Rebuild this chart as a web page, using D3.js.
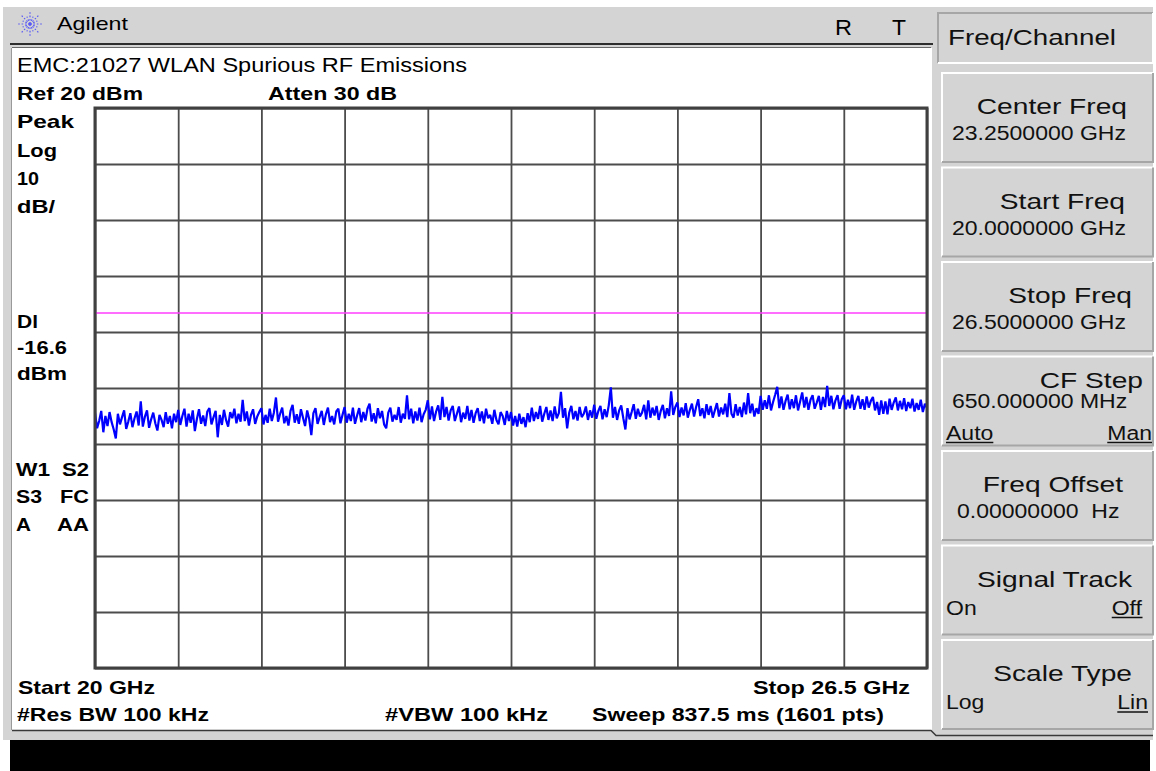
<!DOCTYPE html>
<html>
<head>
<meta charset="utf-8">
<title>EMC:21027 WLAN Spurious RF Emissions</title>
<script src="https://cdn.jsdelivr.net/npm/d3@7/dist/d3.min.js"></script>
<style>
  body { margin: 0; background: #fff; }
  svg { display: block; }
  text { font-family: "Liberation Sans", Arial, Helvetica, sans-serif; fill: #000; white-space: pre; }
  .reg { font-size: 20px; }
  .bold { font-size: 19px; font-weight: bold; }
  .key { font-size: 22px; fill: #111; }
  .val { font-size: 20px; fill: #111; }
</style>
</head>
<body>
<script>

//Sweep settings
var startGHz = 20;
var stopGHz = 26.5;
var refLevel = 20;      //dBm at top graticule line
var dbPerDiv = 10;
var divisions = 10;
var displayLine = -16.6;

//Peak trace in dBm (40 values per division)
var traceDbm = [
  -34.4, -37.2, -35.9, -34.1, -37.9, -35.0, -36.8, -34.3, -36.1, -37.4, -39.0, -34.6, -36.5, -35.2, -34.0, -37.3, -36.0, -34.5, -37.0, -35.4,
  -34.2, -36.7, -32.4, -36.9, -35.1, -34.0, -37.1, -35.6, -34.4, -36.3, -37.6, -34.8, -35.7, -37.0, -34.3, -36.4, -35.0, -37.2, -34.6, -36.1,
  -33.9, -36.6, -35.0, -33.7, -36.9, -34.6, -36.2, -34.0, -37.7, -35.5, -33.8, -36.4, -34.9, -36.8, -34.2, -33.6, -36.5, -35.2, -34.1, -38.8,
  -34.8, -36.6, -33.9, -35.7, -36.9, -34.3, -35.4, -33.7, -36.3, -34.6, -36.0, -32.1, -35.9, -34.2, -36.7, -34.8, -33.8, -36.4, -35.1, -34.3,
  -33.6, -36.5, -34.8, -36.2, -33.7, -35.9, -34.4, -31.7, -36.0, -34.6, -33.5, -36.3, -35.0, -36.7, -34.1, -33.0, -36.2, -34.7, -36.4, -33.8,
  -35.3, -36.8, -34.0, -35.6, -38.4, -34.5, -33.6, -36.4, -35.2, -34.1, -36.6, -34.7, -33.5, -36.1, -35.0, -36.5, -34.2, -33.7, -36.3, -34.8,
  -33.4, -36.2, -34.6, -35.9, -33.5, -36.4, -34.9, -33.6, -36.1, -34.3, -35.8, -33.7, -32.8, -36.0, -34.5, -36.3, -33.6, -35.4, -34.1, -36.5,
  -37.2, -34.4, -33.5, -36.0, -34.8, -35.7, -33.4, -36.2, -34.6, -35.5, -31.3, -35.6, -33.7, -36.3, -34.2, -35.8, -33.5, -36.1, -34.7, -33.9,
  -32.2, -35.6, -33.3, -35.9, -34.2, -33.1, -35.7, -31.6, -35.2, -33.4, -35.8, -34.0, -33.2, -35.9, -34.6, -33.3, -36.1, -34.4, -35.5, -33.2,
  -35.8, -33.9, -36.2, -34.5, -33.6, -35.9, -34.2, -36.3, -33.7, -35.4, -34.8, -36.4, -33.9, -35.7, -36.5, -34.3, -35.0, -36.6, -34.1, -35.9,
  -34.3, -36.7, -35.0, -36.9, -34.6, -36.4, -35.2, -37.0, -34.5, -36.1, -33.5, -35.9, -34.3, -35.5, -33.2, -36.0, -34.6, -33.4, -35.7, -34.0,
  -35.9, -33.3, -35.4, -34.5, -30.7, -35.3, -33.6, -37.2, -34.4, -33.2, -35.6, -34.1, -35.8, -33.4, -35.2, -34.6, -33.3, -35.7, -34.0, -35.3,
  -33.0, -35.5, -34.1, -33.2, -35.6, -33.8, -35.2, -33.1, -29.9, -35.3, -33.4, -35.7, -34.0, -33.1, -35.4, -37.4, -33.6, -35.6, -34.3, -32.9,
  -35.5, -33.7, -35.1, -34.4, -33.0, -35.6, -32.2, -35.3, -33.5, -34.9, -33.2, -35.7, -34.1, -33.0, -35.4, -33.6, -35.0, -30.6, -34.8, -33.4,
  -32.6, -35.2, -33.5, -34.9, -32.7, -35.3, -33.9, -32.8, -35.1, -33.4, -32.0, -35.0, -33.6, -35.4, -32.9, -34.8, -33.2, -35.3, -34.0, -32.7,
  -35.1, -33.5, -34.7, -32.8, -35.2, -30.9, -34.6, -35.3, -32.9, -34.9, -33.4, -35.2, -32.6, -34.7, -30.9, -34.5, -32.8, -35.1, -33.6, -34.6,
  -31.4, -33.9, -32.2, -33.7, -31.3, -34.0, -32.5, -31.2, -29.8, -33.6, -31.5, -33.9, -32.3, -31.2, -33.8, -32.0, -33.6, -31.3, -34.0, -32.4,
  -30.8, -33.5, -31.6, -33.9, -32.1, -31.3, -33.7, -32.6, -31.4, -33.9, -31.6, -33.4, -29.6, -33.2, -31.4, -33.8, -32.2, -31.3, -33.7, -32.0,
  -31.3, -33.8, -32.1, -33.6, -31.2, -33.9, -32.4, -31.4, -33.7, -32.0, -33.9, -31.5, -33.5, -32.3, -31.6, -34.0, -32.5, -34.8, -32.2, -34.6,
  -32.4, -34.7, -31.9, -33.9, -32.6, -31.7, -34.0, -32.3, -33.8, -31.8, -34.1, -32.5, -33.6, -31.9, -34.2, -32.7, -33.9, -32.1, -34.3, -32.8,
  -33.6
];

//Screen annotations
var titleText = "EMC:21027 WLAN Spurious RF Emissions";
var refLabel = "Ref 20 dBm";
var attenLabel = "Atten 30 dB";
var scaleLabels = ["Peak", "Log", "10", "dB/"];
var dlLabels = ["Dl", "-16.6", "dBm"];
var statusLeft = ["W1", "S3", "A"];
var statusRight = ["S2", "FC", "AA"];
var startLabel = "Start 20 GHz";
var stopLabel = "Stop 26.5 GHz";
var bwLabels = ["#Res BW 100 kHz", "#VBW 100 kHz", "Sweep 837.5 ms (1601 pts)"];
var headerRight = ["R", "T"];

//Softkey menu
var menuTitle = "Freq/Channel";
var keyTitles = ["Center Freq", "Start Freq", "Stop Freq", "CF Step", "Freq Offset", "Signal Track", "Scale Type"];
var keyValues = ["23.2500000 GHz", "20.0000000 GHz", "26.5000000 GHz", "650.000000 MHz", "0.00000000  Hz", "", ""];
var keyOptions = [null, null, null, ["Auto", "Man"], null, ["On", "Off"], ["Log", "Lin"]];
var keyUnderline = [null, null, null, [true, true], null, [false, true], [false, true]];

//Width and height
var w = 1156;
var h = 771;

var svg = d3.select("body")
            .append("svg")
            .attr("width", w)
            .attr("height", h);

//Screen furniture: grey frame, white display, black message line
svg.append("rect").attr("x", 3).attr("y", 7).attr("width", 1150).attr("height", 733).attr("fill", "#d4d4d4");
svg.append("rect").attr("x", 12).attr("y", 48).attr("width", 920).attr("height", 682).attr("fill", "#fff");
svg.append("line").attr("x1", 10).attr("x2", 933).attr("y1", 44).attr("y2", 44).attr("stroke", "#2e2e2e").attr("stroke-width", 2);
svg.append("line").attr("x1", 12).attr("x2", 931).attr("y1", 47.5).attr("y2", 47.5).attr("stroke", "#6a6a6a").attr("stroke-width", 1);
svg.append("line").attr("x1", 11.5).attr("x2", 11.5).attr("y1", 48).attr("y2", 730).attr("stroke", "#9a9a9a").attr("stroke-width", 1);
svg.append("path").attr("d", "M12,730.5 H931 L936,735.5 H1153").attr("fill", "none").attr("stroke", "#3a3a3a").attr("stroke-width", 1.5);
svg.append("rect").attr("x", 10).attr("y", 740).attr("width", 1140).attr("height", 31).attr("fill", "#000");

//Agilent starburst
var logo = svg.append("g").attr("transform", "translate(30,24)");
logo.selectAll("line")
    .data(d3.range(16))
    .enter()
    .append("line")
    .attr("x1", 0).attr("y1", 0)
    .attr("x2", function(d) { return Math.cos(d * Math.PI / 8) * (d % 2 ? 8 : 12); })
    .attr("y2", function(d) { return Math.sin(d * Math.PI / 8) * (d % 2 ? 8 : 12); })
    .attr("stroke", "#5b5bf5")
    .attr("stroke-width", 1.2)
    .attr("stroke-dasharray", "1.6,1.8");

//Text helper; width squeezes/stretches to the screen font
function label(str, px, py, cls, width, anchor) {
    var t = svg.append("text")
               .attr("class", cls)
               .attr("x", px)
               .attr("y", py)
               .attr("text-anchor", anchor || "start")
               .text(str);
    if (width) {
        t.attr("textLength", width).attr("lengthAdjust", "spacingAndGlyphs");
    }
    return t;
}

//Scale by a factor of its natural width (the screen font is wider than Liberation Sans)
function stretch(t, k) {
    var nat = t.node().getComputedTextLength();
    t.attr("textLength", nat * k).attr("lengthAdjust", "spacingAndGlyphs");
    return t;
}

//Header
label("Agilent", 57, 30, "reg", 71).style("font-size", "19px");
label(headerRight[0], 835, 35, "reg", 17).style("font-size", "22px");
label(headerRight[1], 892, 35, "reg", 14).style("font-size", "22px");
label(titleText, 17, 72, "reg", 450);
label(refLabel, 17, 100, "bold", 126);
label(attenLabel, 268, 100, "bold", 129);

//Left annotation column
var scaleW = [57, 40, 22, 38];
var scaleY = [128, 157, 185, 213];
scaleLabels.forEach(function(s, i) { label(s, 17, scaleY[i], "bold", scaleW[i]); });

var dlW = [21, 50, 50];
var dlY = [328, 354, 380];
dlLabels.forEach(function(s, i) { label(s, 17, dlY[i], "bold", dlW[i]); });

var statusY = [476, 503, 531];
var statusLW = [34, 26, 15];
var statusRW = [27, 29, 32];
statusLeft.forEach(function(s, i) { label(s, 16, statusY[i], "bold", statusLW[i]); });
statusRight.forEach(function(s, i) { label(s, 89, statusY[i], "bold", statusRW[i], "end"); });

//Bottom annotations
label(startLabel, 18, 694, "bold", 137);
label(stopLabel, 910, 694, "bold", 157, "end");
label(bwLabels[0], 17, 721, "bold", 192);
label(bwLabels[1], 385, 721, "bold", 163);
label(bwLabels[2], 592, 721, "bold", 292);

//Graticule
var plotL = 95, plotT = 108, plotR = 927, plotB = 668;

var x = d3.scaleLinear()
          .domain([startGHz, stopGHz])
          .range([plotL, plotR]);

var y = d3.scaleLinear()
          .domain([refLevel - dbPerDiv * divisions, refLevel])
          .range([plotB, plotT]);

var xTicks = d3.range(divisions + 1).map(function(i) { return startGHz + i * (stopGHz - startGHz) / divisions; });
var yTicks = d3.range(divisions + 1).map(function(i) { return refLevel - i * dbPerDiv; });

var grid = svg.append("g");
grid.append("g")
    .attr("transform", "translate(0," + plotB + ")")
    .call(d3.axisBottom(x).tickValues(xTicks).tickSize(-(plotB - plotT)).tickFormat(""));
grid.append("g")
    .attr("transform", "translate(" + plotL + ",0)")
    .call(d3.axisLeft(y).tickValues(yTicks).tickSize(-(plotR - plotL)).tickFormat(""));
grid.selectAll(".domain").remove();
grid.selectAll(".tick line")
    .attr("stroke", "#4c4c4c")
    .attr("stroke-width", 1.8);

//Display line
svg.append("line")
   .attr("x1", plotL).attr("x2", plotR)
   .attr("y1", y(displayLine)).attr("y2", y(displayLine))
   .attr("stroke", "#ff3cff")
   .attr("stroke-width", 1.5);

//Trace
var n = traceDbm.length;
var line = d3.line()
             .x(function(d, i) { return x(startGHz + i * (stopGHz - startGHz) / (n - 1)); })
             .y(function(d) { return y(d); });

svg.append("path")
   .datum(traceDbm)
   .attr("d", line)
   .attr("fill", "none")
   .attr("stroke", "#0000ff")
   .attr("stroke-width", 2.2)
   .attr("stroke-linejoin", "bevel");

//Graticule border on top
svg.append("rect")
   .attr("x", plotL).attr("y", plotT)
   .attr("width", plotR - plotL).attr("height", plotB - plotT)
   .attr("fill", "none")
   .attr("stroke", "#404040")
   .attr("stroke-width", 3);

//Softkey panel
function bevel(x0, y0, bw, bh, raised) {
    var hi = raised ? "#ffffff" : "#a6a6a6";
    var lo = raised ? "#a6a6a6" : "#ffffff";
    svg.append("rect").attr("x", x0).attr("y", y0).attr("width", bw).attr("height", bh).attr("fill", "#d4d4d4");
    svg.append("path").attr("d", "M" + x0 + "," + (y0 + bh) + " V" + y0 + " H" + (x0 + bw))
       .attr("fill", "none").attr("stroke", hi).attr("stroke-width", 2);
    svg.append("path").attr("d", "M" + (x0 + bw) + "," + y0 + " V" + (y0 + bh) + " H" + x0)
       .attr("fill", "none").attr("stroke", lo).attr("stroke-width", 2);
}

bevel(938, 13, 215, 50, false);
stretch(label(menuTitle, 948, 45, "key"), 1.26);

var keyTop = 73, keyStep = 94.5, keyH = 89, keyX = 942, keyW = 211;
var titleRight = [1127, 1125, 1132, 1143, 1123, 1132, 1132];

keyTitles.forEach(function(t, i) {
    var top = keyTop + i * keyStep;
    var three = keyValues[i] && keyOptions[i];
    bevel(keyX, top, keyW, keyH, true);
    stretch(label(t, titleRight[i], top + (three ? 31 : 41), "key", null, "end"), 1.28);
    if (keyValues[i]) {
        stretch(label(keyValues[i], i === 4 ? 957 : 952, top + (three ? 51 : 67), "val"), 1.15);
    }
    if (keyOptions[i]) {
        var oy = top + (three ? 83 : 69);
        var right = [1152, null, 1142, 1148][i - 3] || 1146;
        var a = stretch(label(keyOptions[i][0], 946, oy, "val"), 1.15);
        var b = stretch(label(keyOptions[i][1], right, oy, "val", null, "end"), 1.15);
        [a, b].forEach(function(t2, j) {
            if (!keyUnderline[i][j]) return;
            var bb = t2.node().getBBox();
            svg.append("line")
               .attr("x1", bb.x).attr("x2", bb.x + bb.width)
               .attr("y1", oy + 3).attr("y2", oy + 3)
               .attr("stroke", "#111").attr("stroke-width", 1.5);
        });
    }
});

</script>
</body>
</html>
